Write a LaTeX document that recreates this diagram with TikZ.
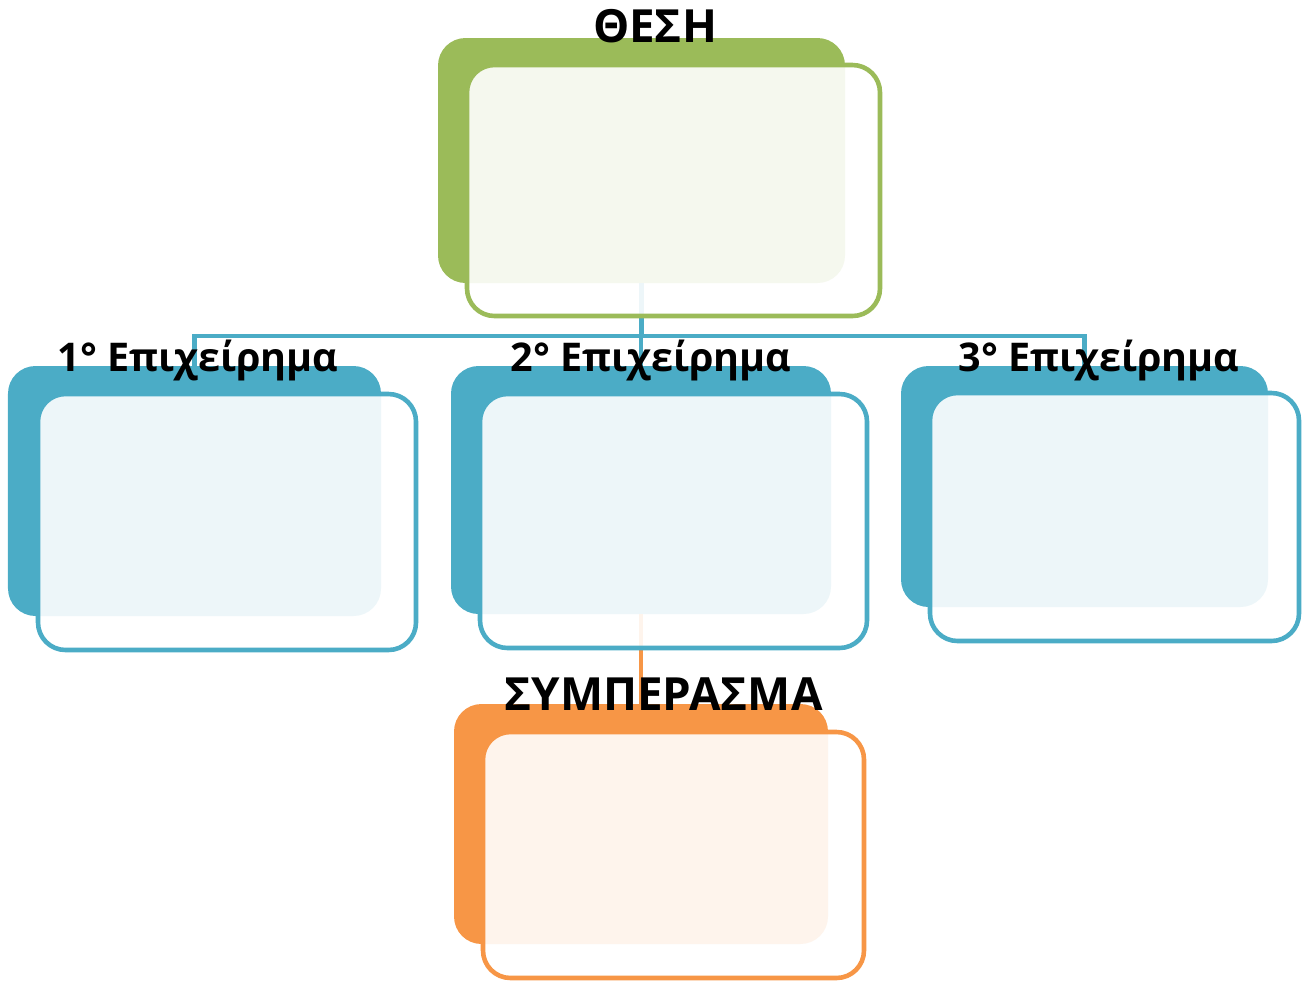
\documentclass[tikz,border=0pt]{standalone}
\usepackage{fontspec}
\setmainfont{Open Sans}
\usepackage{tikz}
\usetikzlibrary{positioning}
\definecolor{thesicol}{HTML}{9BBB59}
\definecolor{argcol}{HTML}{4BACC6}
\definecolor{concol}{HTML}{F79646}
\tikzset{
  backbox/.style={rounded corners=0.55cm, inner sep=0pt, fill=#1},
  frontbox/.style={rounded corners=0.55cm, inner sep=0pt, draw=#1,
    line width=2.6pt, fill=white, fill opacity=0.9},
  title/.style={anchor=base, font=\fontsize{26}{30}\selectfont\bfseries},
  argtitle/.style={title, font=\fontsize{22.5}{27}\selectfont\bfseries},
  conn/.style={line width=2.6pt, draw=#1}
}

\begin{document}
\begin{tikzpicture}

\useasboundingbox (0,0) rectangle (26.04,-19.62);

% ---------------- Back boxes ----------------
\node[backbox=thesicol, minimum width=8.14cm, minimum height=4.90cm] (thesi) at (12.83,-3.21) {};
\node[backbox=argcol, minimum width=7.46cm, minimum height=5.00cm] (arg1) at (3.89,-9.82) {};
\node[backbox=argcol, minimum width=7.60cm, minimum height=4.96cm] (arg2) at (12.82,-9.80) {};
\node[backbox=argcol, minimum width=7.34cm, minimum height=4.82cm] (arg3) at (21.69,-9.73) {};
\node[backbox=concol, minimum width=7.48cm, minimum height=4.80cm] (concl) at (12.82,-16.48) {};

% ---------------- Connectors ----------------
\coordinate (bus) at (0,-6.72);
\draw[conn=argcol] (thesi.south) -- (thesi.south |- bus);
\draw[conn=argcol] (arg1.north) -- (arg1.north |- bus) -- (arg3.north |- bus) -- (arg3.north);
\draw[conn=argcol] (arg2.north |- bus) -- (arg2.north);
\draw[conn=concol] (arg2.south) -- (concl.north);

% ---------------- Front boxes ----------------
\node[frontbox=thesicol, minimum width=8.26cm, minimum height=5.02cm] (thesi-f) at (13.47,-3.81) {};
\node[frontbox=argcol, minimum width=7.56cm, minimum height=5.12cm] (arg1-f) at (4.54,-10.44) {};
\node[frontbox=argcol, minimum width=7.74cm, minimum height=5.08cm] (arg2-f) at (13.47,-10.42) {};
\node[frontbox=argcol, minimum width=7.38cm, minimum height=4.96cm] (arg3-f) at (22.29,-10.34) {};
\node[frontbox=concol, minimum width=7.62cm, minimum height=4.92cm] (concl-f) at (13.47,-17.10) {};

% ---------------- Labels ----------------
\node[title] (thesi-t) at (13.10,-0.84) {ΘΕΣΗ};
\node[argtitle] (arg1-t) at (3.96,-7.42) {1° Επιχείρημα};
\node[argtitle] (arg2-t) at (13.02,-7.42) {2° Επιχείρημα};
\node[argtitle] (arg3-t) at (21.98,-7.42) {3° Επιχείρημα};
\node[title] (concl-t) at (13.27,-14.20) {ΣΥΜΠΕΡΑΣΜΑ};

\end{tikzpicture}
\end{document}
